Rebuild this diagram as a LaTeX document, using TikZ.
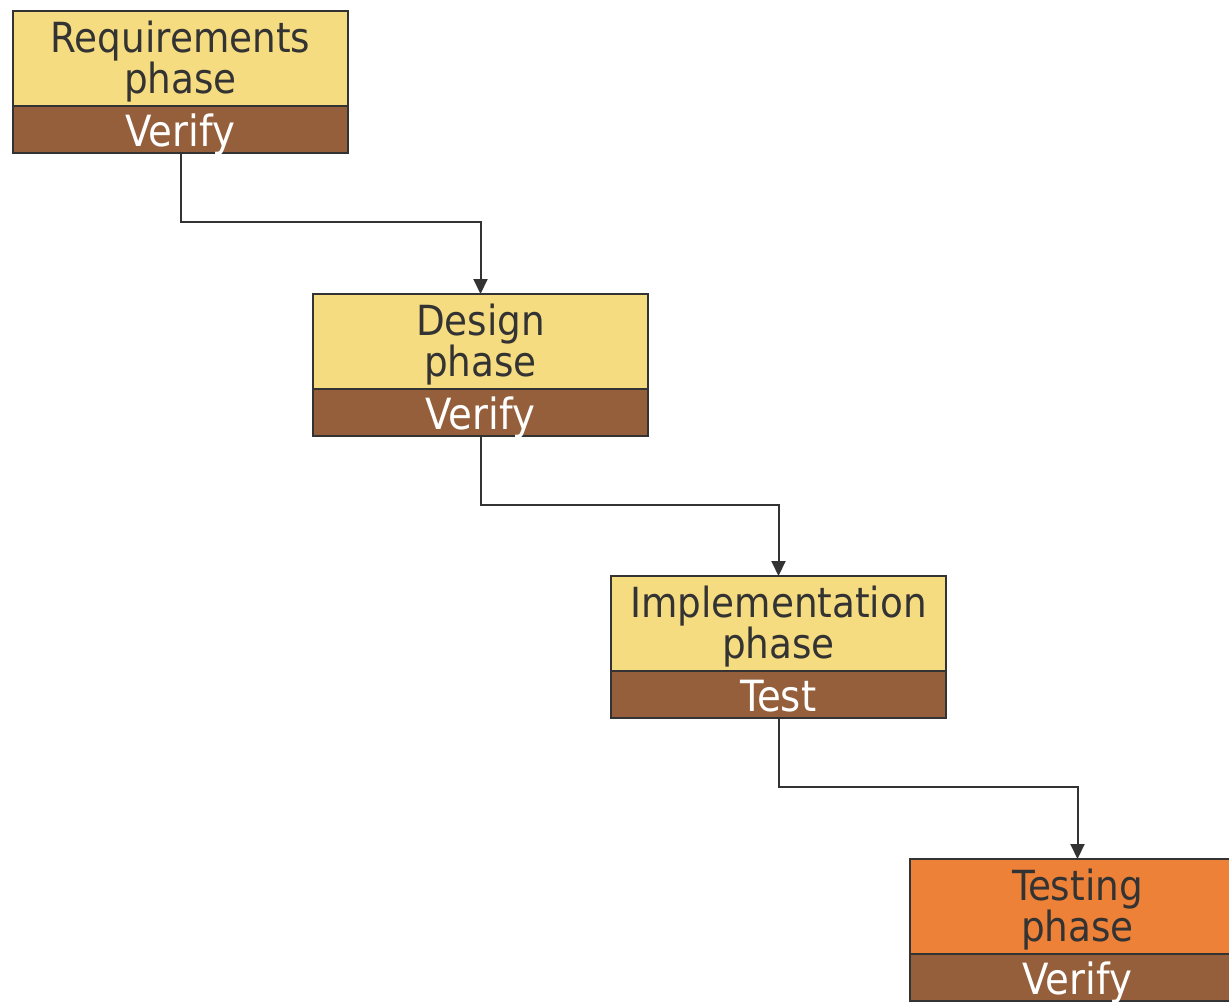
\documentclass[tikz,border=0pt]{standalone}
\usepackage{fontspec}
\setmainfont{DejaVu Sans Condensed}
\usetikzlibrary{arrows.meta}
\definecolor{ink}{HTML}{333333}
\definecolor{phaseyellow}{HTML}{F6DC80}
\definecolor{checkbrown}{HTML}{955F3B}
\definecolor{testorange}{HTML}{EE8138}
\tikzset{
  phasebox/.style={draw=ink, line width=2pt, fill=phaseyellow,
    minimum width=335pt, minimum height=95pt, inner sep=0pt, outer sep=0pt},
  phasetext/.style={text=ink, inner sep=0pt, align=center, yshift=-3pt,
    font=\fontsize{41.5}{38}\selectfont},
  checkbox/.style={draw=ink, line width=2pt, fill=checkbrown, text=white,
    minimum width=335pt, minimum height=47pt, inner sep=0pt, outer sep=0pt,
    text height=34pt, text depth=0pt, font=\fontsize{43}{44}\selectfont},
  conn/.style={draw=ink, line width=2pt, -{Triangle[length=15pt,width=14pt]}},
}
\begin{document}
\begin{tikzpicture}[x=1pt,y=-1pt]
\useasboundingbox (0,0) rectangle (1229,1002);
\clip (0,0) rectangle (1229,1002);
\fill[white] (0,0) rectangle (1229,1002);

% phases, each with its check band underneath
\node[phasebox, anchor=north west] (req) at (13,11) {};
\node[phasetext] (reqt) at (req.center) {Requirements\\phase};
\node[checkbox, anchor=north] (reqv) at (req.south) {Verify};

\node[phasebox, anchor=north west] (des) at (313,294) {};
\node[phasetext] (dest) at (des.center) {Design\\phase};
\node[checkbox, anchor=north] (desv) at (des.south) {Verify};

\node[phasebox, anchor=north west] (imp) at (611,576) {};
\node[phasetext] (impt) at (imp.center) {Implementation\\phase};
\node[checkbox, anchor=north] (impv) at (imp.south) {Test};

\node[phasebox, fill=testorange, anchor=north west] (tst) at (910,859) {};
\node[phasetext] (tstt) at (tst.center) {Testing\\phase};
\node[checkbox, anchor=north] (tstv) at (tst.south) {Verify};

% step-down connectors
\draw[conn] (reqv.south) -- ++(0,69) -| (des.north);
\draw[conn] (desv.south) -- ++(0,69) -| (imp.north);
\draw[conn] (impv.south) -- ++(0,69) -| (tst.north);
\end{tikzpicture}
\end{document}
